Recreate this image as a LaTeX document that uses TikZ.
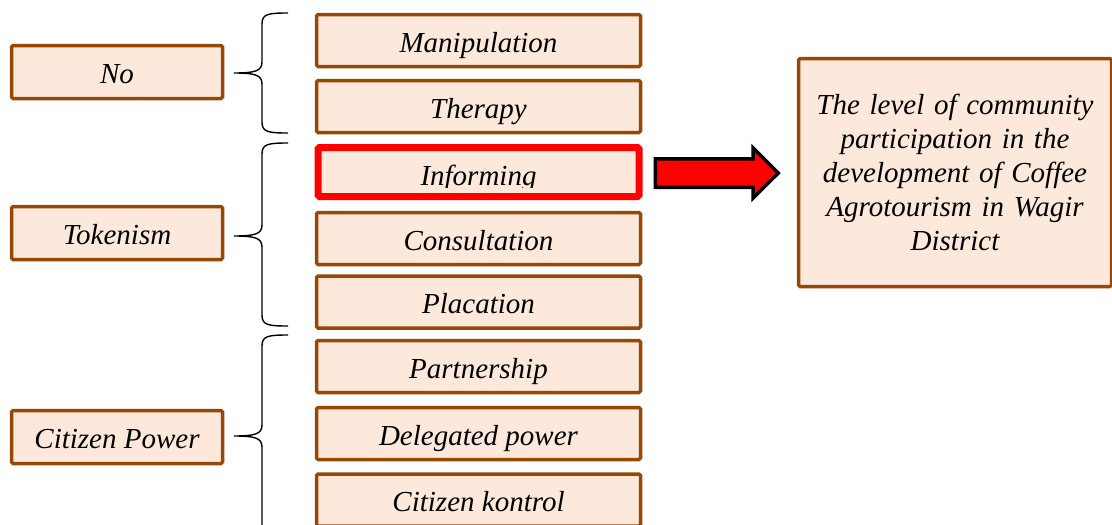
\documentclass[tikz,border=0pt]{standalone}
\usepackage{fontspec}
\setmainfont{Liberation Serif}
\usetikzlibrary{shapes.arrows,calc}
\definecolor{boxfill}{HTML}{FCE9DB}
\definecolor{boxline}{HTML}{984806}
\begin{document}
\begin{tikzpicture}[x=1pt,y=-1pt,
  box/.style={draw=boxline, line width=3.5pt, fill=boxfill, rounded corners=1.5pt,
    inner sep=0pt, font=\itshape\fontsize{29}{34}\selectfont,
    text height=25pt, text depth=2pt},
  leftbox/.style={box, minimum width=211pt, minimum height=53pt},
  midbox/.style={box, minimum width=324pt, minimum height=52pt},
  brace/.style={draw=black, line width=1.4pt}
]
\useasboundingbox (0,0) rectangle (1112,525);
\clip (0,0) rectangle (1112,525);

% left category boxes
\node[leftbox] (no) at (117,72) {No};
\node[leftbox] (tok) at (117,233) {Tokenism};
\node[leftbox] (cp) at (117,437) {Citizen Power};

% ladder boxes
\node[midbox] (man) at (478.5,40.5) {Manipulation};
\node[midbox] (ther) at (478.5,106.5) {Therapy};
\node[box, draw=red, line width=7pt, minimum width=321pt, minimum height=49pt] (inf) at (478.5,172) {};
\begin{scope}
  \clip (322,152) rectangle (635,187.5);
  \node[font=\itshape\fontsize{29}{34}\selectfont, inner sep=0pt, anchor=base] (inftext) at (478.5,185) {Informing};
\end{scope}
\node[midbox] (cons) at (478.5,238.5) {Consultation};
\node[midbox] (plac) at (478.5,302) {Placation};
\node[midbox] (part) at (478.5,366.5) {Partnership};
\node[midbox] (del) at (478.5,433.5) {Delegated power};
\node[midbox] (cit) at (478.5,500) {Citizen kontrol};

% result box
\node[box, minimum width=313pt, minimum height=228pt, text width=300pt, align=center,
      text height=, text depth=] (res) at (955,172.5)
  {The level of community\\participation in the\\development of Coffee\\Agrotourism in Wagir\\District};

% arrow
\node[single arrow, draw=black, fill=red, line width=3.5pt, inner sep=0pt,
      minimum height=123pt, minimum width=47pt, single arrow head extend=11pt,
      text height=25pt, text depth=0pt, anchor=west] (arr) at ($(inf.east)+(11,1)$) {};

% braces
\coordinate (b1) at (234,73);
\coordinate (b2) at (234,236);
\coordinate (b3) at (234,436);
\draw[brace] (288,13) .. controls (268,13) and (262,14) .. (262,24) -- (262,62)
  .. controls (262,71) and (255,73) .. (b1)
  .. controls (255,73) and (262,75) .. (262,84) -- (262,122)
  .. controls (262,132) and (268,133) .. (288,133);
\draw[brace] (288,143) .. controls (268,143) and (262,144) .. (262,154) -- (262,225)
  .. controls (262,234) and (255,236) .. (b2)
  .. controls (255,236) and (262,238) .. (262,247) -- (262,315)
  .. controls (262,325) and (268,326) .. (288,326);
\draw[brace] (288,335) .. controls (268,335) and (262,336) .. (262,346) -- (262,425)
  .. controls (262,434) and (255,436) .. (b3)
  .. controls (255,436) and (262,438) .. (262,447) -- (262,540);
\end{tikzpicture}
\end{document}
